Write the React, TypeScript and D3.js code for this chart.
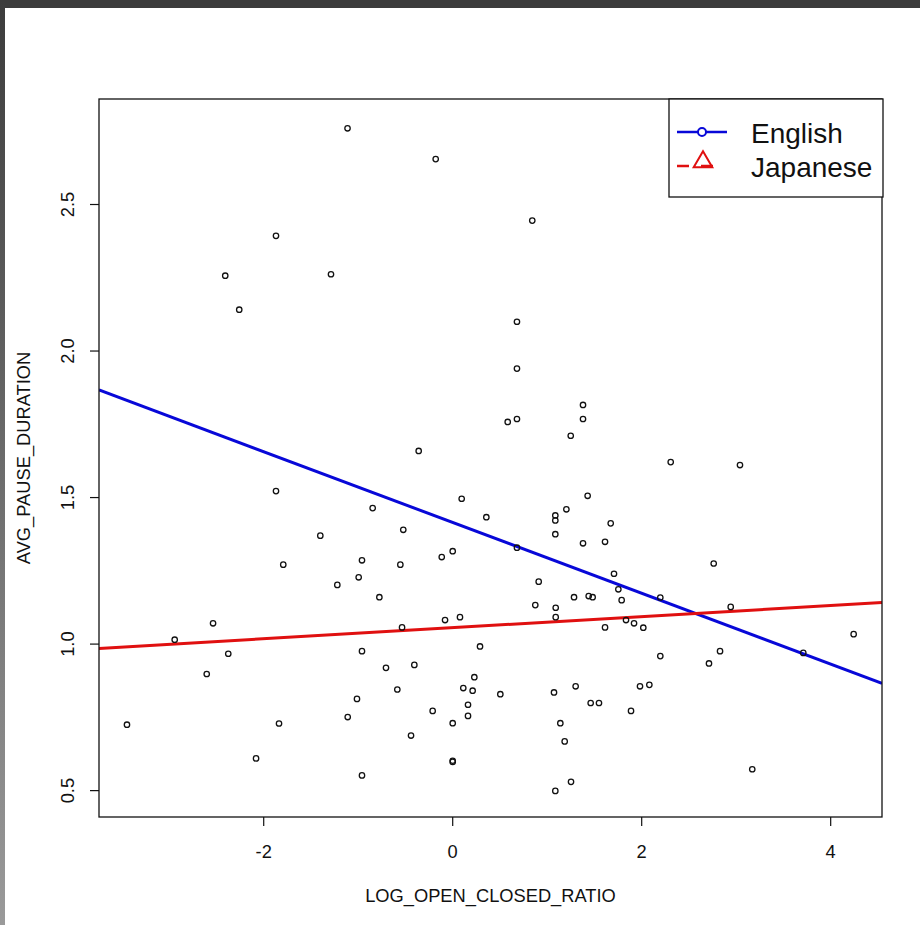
import React from 'react';
import * as d3 from 'd3';

// LOG_OPEN_CLOSED_RATIO (x) and AVG_PAUSE_DURATION (y)
const ratioValues = [
  -1.113, -1.87, -2.407, -1.288, -2.259, -0.18, 0.842, 0.68, 0.68, -1.87,
  -0.847, -1.401, -1.793, -0.96, -0.995, -1.221, -0.776, -2.536, -2.942, 1.379,
  1.379, 0.582, 0.68, 1.249, -0.36, 2.307, 0.095, 1.428, 1.203, 0.356,
  1.086, 1.086, 1.672, -0.523, 1.086, 1.379, 1.612, 0.68, -0.554, 0.0,
  -0.116, 1.707, 0.91, 1.753, 1.284, 1.439, 1.481, 1.788, 2.197, 0.874,
  1.09, 1.09, 0.077, -0.081, -0.536, 1.612, 1.834, 1.919, 2.017, 3.04,
  2.762, 2.942, 4.243, 2.197, 2.829, 3.71, 2.712, 3.17, -2.375, -2.603,
  -0.96, -0.706, -1.013, -1.111, -3.447, -1.838, -2.081, -0.96, 0.289, -0.406,
  -0.586, 0.229, 0.112, 0.211, 0.504, 1.072, 1.301, 1.46, 1.548, 1.982,
  2.081, 1.887, -0.212, 0.162, 0.162, 0.0, -0.441, 1.139, 1.185, 0.0,
  0.0, 1.252, 1.086,
];
const pauseValues = [
  2.76, 2.393, 2.257, 2.262, 2.141, 2.655, 2.445, 2.1, 1.94, 1.522,
  1.464, 1.37, 1.271, 1.286, 1.228, 1.202, 1.16, 1.071, 1.015, 1.816,
  1.768, 1.758, 1.768, 1.711, 1.659, 1.621, 1.496, 1.506, 1.46, 1.433,
  1.439, 1.422, 1.412, 1.39, 1.375, 1.344, 1.349, 1.329, 1.271, 1.317,
  1.297, 1.24, 1.213, 1.187, 1.16, 1.164, 1.16, 1.15, 1.159, 1.133,
  1.124, 1.092, 1.092, 1.082, 1.057, 1.057, 1.082, 1.071, 1.056, 1.611,
  1.275, 1.127, 1.034, 0.959, 0.976, 0.97, 0.934, 0.573, 0.967, 0.898,
  0.976, 0.919, 0.813, 0.751, 0.725, 0.729, 0.61, 0.552, 0.992, 0.929,
  0.845, 0.887, 0.85, 0.841, 0.829, 0.835, 0.856, 0.799, 0.799, 0.856,
  0.861, 0.772, 0.772, 0.793, 0.755, 0.73, 0.688, 0.73, 0.668, 0.602,
  0.598, 0.53, 0.499,
];

// fitted lines: intercept, slope
const groups = ['English', 'Japanese'];
const intercepts = [1.415, 1.056];
const slopes = [-0.1208, 0.01895];
const groupColors = ['#0808d8', '#e01010'];

const xTicks = [-2, 0, 2, 4];
const yTicks = [0.5, 1.0, 1.5, 2.0, 2.5];

const W = 920;
const H = 925;
const box = { left: 99, right: 882, top: 99, bottom: 817 };
const font = 'Liberation Sans, Arial, Helvetica, sans-serif';

export default function App() {
  const x = d3.scaleLinear().domain([-3.743, 4.543]).range([box.left, box.right]);
  const y = d3.scaleLinear().domain([0.41, 2.86]).range([box.bottom, box.top]);
  const [x0, x1] = x.domain();

  const points = ratioValues.map((r, i) => ({ r, p: pauseValues[i] }));

  return (
    <div style={{ position: 'absolute', left: 0, top: 0 }}>
      <svg width={W} height={H} style={{ display: 'block', background: '#fff' }}>
        <defs>
          <linearGradient id="sideBand" x1="0" y1="0" x2="0" y2="1">
            <stop offset="0" stopColor="#3c3c3c" />
            <stop offset="1" stopColor="#9a9a9a" />
          </linearGradient>
          <clipPath id="plotClip">
            <rect x={box.left} y={box.top} width={box.right - box.left} height={box.bottom - box.top} />
          </clipPath>
        </defs>
        <rect x={0} y={0} width={W} height={H} fill="#fff" />
        <rect x={0} y={0} width={W} height={8} fill="#3c3c3c" />
        <rect x={0} y={0} width={5} height={H} fill="url(#sideBand)" />

        {/* regression lines */}
        <g clipPath="url(#plotClip)">
          {groups.map((g, i) => (
            <path
              key={g}
              d={
                d3
                  .line<number>()
                  .x((v) => x(v))
                  .y((v) => y(intercepts[i] + slopes[i] * v))([x0, x1]) || ''
              }
              fill="none"
              stroke={groupColors[i]}
              strokeWidth={3}
            />
          ))}
        </g>

        {/* points */}
        <g>
          {points.map((d, i) => (
            <circle
              key={i}
              cx={x(d.r)}
              cy={y(d.p)}
              r={2.7}
              fill="none"
              stroke="#111"
              strokeWidth={1.3}
            />
          ))}
        </g>

        {/* frame */}
        <rect
          x={box.left}
          y={box.top}
          width={box.right - box.left}
          height={box.bottom - box.top}
          fill="none"
          stroke="#111"
          strokeWidth={1.3}
        />

        {/* x axis */}
        <g fontFamily={font} fontSize={18.3} fill="#111">
          {xTicks.map((t) => (
            <g key={t}>
              <line x1={x(t)} x2={x(t)} y1={box.bottom} y2={box.bottom + 9} stroke="#111" strokeWidth={1.2} />
              <text x={x(t)} y={858} textAnchor="middle">
                {t}
              </text>
            </g>
          ))}
          <text x={(box.left + box.right) / 2} y={902} textAnchor="middle">
            LOG_OPEN_CLOSED_RATIO
          </text>
        </g>

        {/* y axis */}
        <g fontFamily={font} fontSize={18.3} fill="#111">
          {yTicks.map((t) => (
            <g key={t}>
              <line x1={box.left - 9} x2={box.left} y1={y(t)} y2={y(t)} stroke="#111" strokeWidth={1.2} />
              <text transform={`translate(74,${y(t)}) rotate(-90)`} textAnchor="middle">
                {t.toFixed(1)}
              </text>
            </g>
          ))}
          <text transform={`translate(30,${(box.top + box.bottom) / 2}) rotate(-90)`} textAnchor="middle">
            AVG_PAUSE_DURATION
          </text>
        </g>

        {/* legend */}
        <g>
          <rect x={669} y={box.top} width={214} height={98} fill="#fff" stroke="#111" strokeWidth={1.3} />
          <line x1={677} x2={727} y1={132} y2={132} stroke={groupColors[0]} strokeWidth={2.5} />
          <circle cx={702} cy={132} r={4} fill="#fff" stroke={groupColors[0]} strokeWidth={2} />
          <line
            x1={677}
            x2={713}
            y1={166}
            y2={166}
            stroke={groupColors[1]}
            strokeWidth={2.5}
            strokeDasharray="12 12"
          />
          <path
            d={d3.symbol(d3.symbolTriangle, 150)() || ''}
            transform="translate(703,162)"
            fill="none"
            stroke={groupColors[1]}
            strokeWidth={2}
          />
          <g fontFamily={font} fontSize={28} fill="#111">
            {groups.map((g, i) => (
              <text key={g} x={751} y={143 + i * 34}>
                {g}
              </text>
            ))}
          </g>
        </g>
      </svg>
    </div>
  );
}
